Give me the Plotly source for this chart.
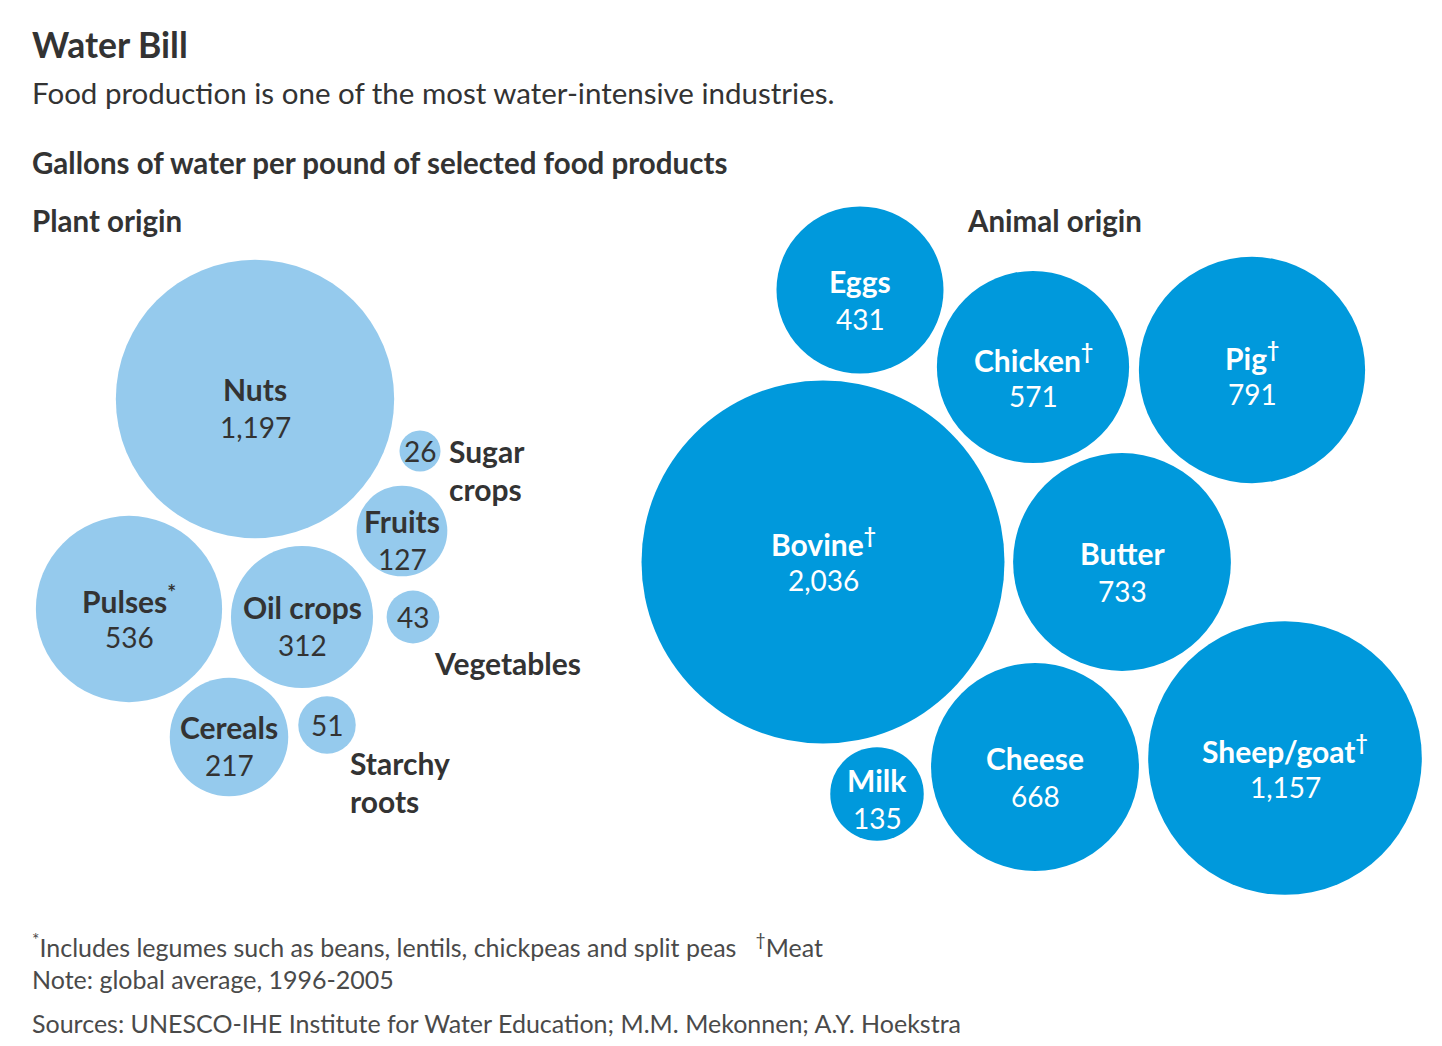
import plotly.graph_objects as go

# ---- data ----
plant_names = ["Nuts", "Sugar crops", "Fruits", "Pulses*", "Oil crops", "Vegetables", "Cereals", "Starchy roots"]
plant_values = [1197, 26, 127, 536, 312, 43, 217, 51]
animal_names = ["Eggs", "Chicken†", "Pig†", "Bovine†", "Butter", "Milk", "Cheese", "Sheep/goat†"]
animal_values = [431, 571, 791, 2036, 733, 135, 668, 1157]

# ---- layout (packed-bubble centres, pixel space) ----
plant_cx = [255, 420, 402, 129, 302, 413, 229, 327]
plant_cy = [399, 451, 531, 609, 617, 617, 737, 725]
animal_cx = [860, 1033, 1252, 823, 1122, 877, 1035, 1285]
animal_cy = [290, 367, 370, 562, 562, 794, 767, 758]

W, H = 1442, 1046
OFF = 8  # page body margin
MAX_D = 363  # diameter of the largest bubble in px
sizeref = 2 * max(animal_values) / MAX_D ** 2

LIGHT = "#95caed"
DARK = "#0099dc"
TXT = "#333333"
FOOT = "#4a4a4a"
FONT = "Lato"
NAME_SZ = 30
VAL_SZ = 28

fig = go.Figure()
for cx, cy, vals, col in [(plant_cx, plant_cy, plant_values, LIGHT),
                          (animal_cx, animal_cy, animal_values, DARK)]:
    fig.add_trace(go.Scatter(
        x=cx, y=cy, mode="markers",
        marker=dict(size=vals, sizemode="area", sizeref=sizeref, color=col,
                    opacity=1, line=dict(width=0)),
        hoverinfo="skip", showlegend=False))

ann = []


def txt(x, y, s, size, bold=False, color=TXT, xanchor="left"):
    ann.append(dict(x=x, y=y, xref="x", yref="y", text=("<b>%s</b>" % s) if bold else s,
                    showarrow=False, xanchor=xanchor, yanchor="middle",
                    font=dict(family=FONT, size=size, color=color)))


def fmt(v):
    return f"{v:,}"


def label_name(n):
    return n.replace("*", "<sup>*</sup>").replace("†", "<sup>†</sup>")


# inside labels for big bubbles
inside_plant = {"Nuts", "Fruits", "Pulses*", "Oil crops", "Cereals"}
for n, v, cx, cy in zip(plant_names, plant_values, plant_cx, plant_cy):
    if n in inside_plant:
        txt(cx, cy - 10, label_name(n), NAME_SZ, True, TXT, "center")
        txt(cx, cy + 28, fmt(v), VAL_SZ, False, TXT, "center")
    else:
        txt(cx, cy, fmt(v), VAL_SZ, False, TXT, "center")

# outside labels for small plant bubbles
txt(447, 451, "<b>Sugar</b>", NAME_SZ)
txt(447, 489, "<b>crops</b>", NAME_SZ)
txt(432, 663, "<b>Vegetables</b>", NAME_SZ)
txt(348, 763, "<b>Starchy</b>", NAME_SZ)
txt(348, 801, "<b>roots</b>", NAME_SZ)

label_dy = {"Bovine†": -20, "Pig†": -14, "Milk": -14}
for n, v, cx, cy in zip(animal_names, animal_values, animal_cx, animal_cy):
    dy = label_dy.get(n, -9)
    txt(cx, cy + dy, label_name(n), NAME_SZ, True, "white", "center")
    txt(cx, cy + dy + 38, fmt(v), VAL_SZ, False, "white", "center")

# titles
txt(30, 44, "<b>Water Bill</b>", 35.5)
txt(30, 92, "Food production is one of the most water-intensive industries.", 29.5)
txt(30, 162, "<b>Gallons of water per pound of selected food products</b>", 29.5)
txt(30, 220, "<b>Plant origin</b>", 29.5)
txt(965, 220, "<b>Animal origin</b>", 29.5)

# footer
txt(30, 945, "<sup>*</sup>Includes legumes such as beans, lentils, chickpeas and split peas   <sup>†</sup>Meat", 25, color=FOOT)
txt(30, 979, "Note: global average, 1996-2005", 25, color=FOOT)
txt(30, 1023, "Sources: UNESCO-IHE Institute for Water Education; M.M. Mekonnen; A.Y. Hoekstra", 25, color=FOOT)

fig.update_layout(
    width=W, height=H, margin=dict(l=0, r=0, t=0, b=0),
    paper_bgcolor="white", plot_bgcolor="white",
    xaxis=dict(range=[OFF, W + OFF], visible=False, fixedrange=True),
    yaxis=dict(range=[H + OFF, OFF], visible=False, fixedrange=True),
    annotations=ann,
)

fig.write_html("out.html")
